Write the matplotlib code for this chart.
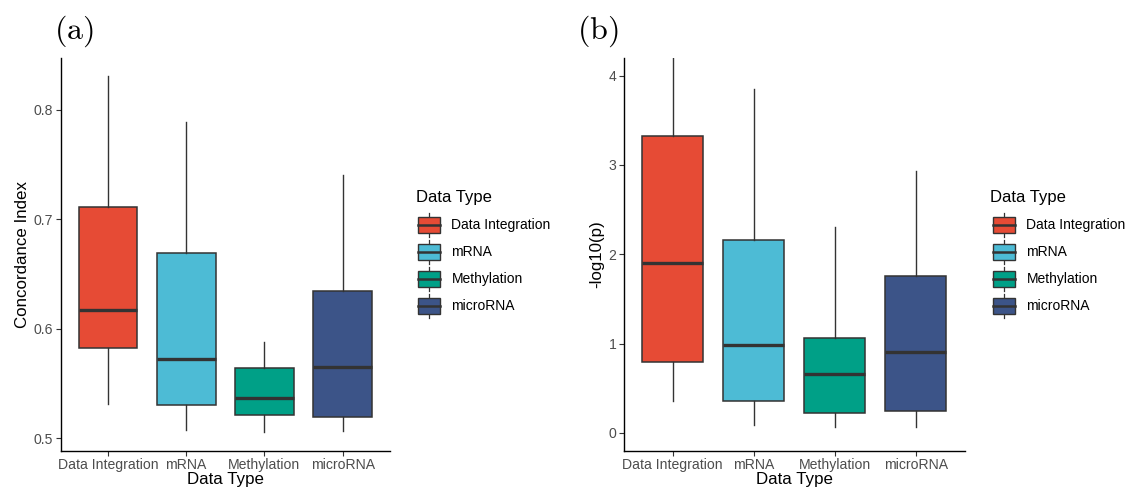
import matplotlib
matplotlib.use("Agg")
import matplotlib.pyplot as plt
from matplotlib.legend_handler import HandlerBase
from matplotlib.patches import Rectangle
from matplotlib.lines import Line2D

plt.rcParams['font.family'] = ['Liberation Sans', 'DejaVu Sans']
plt.rcParams['mathtext.fontset'] = 'cm'

data_types = ["Data Integration", "mRNA", "Methylation", "microRNA"]
colors = ["#E64B35", "#4DBBD5", "#00A087", "#3C5488"]

# panel (a): concordance index summaries
ci_low = [0.531, 0.5075, 0.5052, 0.5067]
ci_q1 = [0.5825, 0.5301, 0.5213, 0.5194]
ci_med = [0.6167, 0.5719, 0.5368, 0.5652]
ci_q3 = [0.7115, 0.6692, 0.5637, 0.6344]
ci_high = [0.831, 0.7884, 0.5877, 0.7403]

# panel (b): -log10(p) summaries
lp_low = [0.351, 0.086, 0.067, 0.067]
lp_q1 = [0.795, 0.358, 0.224, 0.243]
lp_med = [1.903, 0.978, 0.657, 0.903]
lp_q3 = [3.318, 2.154, 1.057, 1.754]
lp_high = [4.6, 3.844, 2.299, 2.926]

EDGE = "#333333"
W, H = 1126, 490


class BoxKeyHandler(HandlerBase):
    """Legend key drawn as a tiny boxplot glyph."""
    def __init__(self, color):
        super().__init__()
        self.color = color

    def create_artists(self, legend, orig_handle, xdescent, ydescent,
                       width, height, fontsize, trans):
        bh = height * 0.66
        y0 = (height - bh) / 2 - ydescent
        x0 = -xdescent
        box = Rectangle((x0, y0), width, bh, facecolor=self.color,
                        edgecolor=EDGE, linewidth=1.0, transform=trans)
        cx = x0 + width / 2
        med = Line2D([x0, x0 + width], [y0 + bh / 2] * 2, color=EDGE,
                     linewidth=1.8, transform=trans)
        w_up = Line2D([cx, cx], [y0 + bh, height - ydescent], color=EDGE,
                      linewidth=0.9, transform=trans)
        w_dn = Line2D([cx, cx], [-ydescent, y0], color=EDGE,
                      linewidth=0.9, transform=trans)
        return [w_up, w_dn, box, med]


def draw_panel(ax, low, q1, med, q3, high, ylim, yticks, ylabel):
    stats = []
    for i, name in enumerate(data_types):
        stats.append(dict(label=name, whislo=low[i], q1=q1[i], med=med[i],
                          q3=q3[i], whishi=high[i], fliers=[]))
    bp = ax.bxp(stats, positions=range(1, 5), widths=0.75, patch_artist=True,
                showcaps=False, showfliers=False,
                boxprops=dict(edgecolor=EDGE, linewidth=1.1),
                whiskerprops=dict(color=EDGE, linewidth=1.0),
                medianprops=dict(color=EDGE, linewidth=2.4, solid_capstyle='butt'))
    for patch, c in zip(bp['boxes'], colors):
        patch.set_facecolor(c)
    ax.set_xlim(0.4, 4.6)
    ax.set_ylim(*ylim)
    ax.set_yticks(yticks)
    ax.set_xticks(range(1, 5))
    ax.set_xticklabels(data_types)
    for s in ['top', 'right']:
        ax.spines[s].set_visible(False)
    for s in ['left', 'bottom']:
        ax.spines[s].set_linewidth(1.0)
        ax.spines[s].set_color('black')
    ax.tick_params(length=3.5, width=0.8, color=EDGE, labelsize=10.1,
                   labelcolor='#4D4D4D', pad=2.0)
    ax.set_xlabel("Data Type", fontsize=12.2, labelpad=0)
    ax.set_ylabel(ylabel, fontsize=12.2, labelpad=3)

    handles = [Rectangle((0, 0), 1, 1) for _ in colors]
    handler_map = {h: BoxKeyHandler(c) for h, c in zip(handles, colors)}
    return handles, handler_map


fig = plt.figure(figsize=(W / 100, H / 100), dpi=100)

ax_a = fig.add_axes([61 / W, 1 - 450.7 / H, 328.7 / W, 392.4 / H])
ax_b = fig.add_axes([624 / W, 1 - 450.7 / H, 340.5 / W, 393 / H])

hs_a, hm_a = draw_panel(ax_a, ci_low, ci_q1, ci_med, ci_q3, ci_high,
                        (0.4884, 0.8470), [0.5, 0.6, 0.7, 0.8], "Concordance Index")
hs_b, hm_b = draw_panel(ax_b, lp_low, lp_q1, lp_med, lp_q3, lp_high,
                        (-0.2, 4.2), [0, 1, 2, 3, 4], "-log10(p)")

# legend title is placed on its own so the gap to the keys can be set freely
for hs, hm, tx, lx in [(hs_a, hm_a, 416.5, 418), (hs_b, hm_b, 990.5, 993)]:
    fig.text(tx / W, 1 - 201.7 / H, "Data Type", fontsize=12, ha='left', va='baseline')
    fig.legend(hs, data_types, handler_map=hm, loc='upper left',
               bbox_to_anchor=(lx / W, 1 - 213.3 / H), frameon=False,
               fontsize=10, borderpad=0, borderaxespad=0,
               handlelength=1.56, handleheight=2.215, labelspacing=0.26,
               handletextpad=0.85)

fig.text(54 / W, 1 - 31 / H, r'$\mathrm{(a)}$', fontsize=23, va='center', ha='left')
fig.text(577 / W, 1 - 31 / H, r'$\mathrm{(b)}$', fontsize=23, va='center', ha='left')

fig.savefig("out.png", dpi=100)
